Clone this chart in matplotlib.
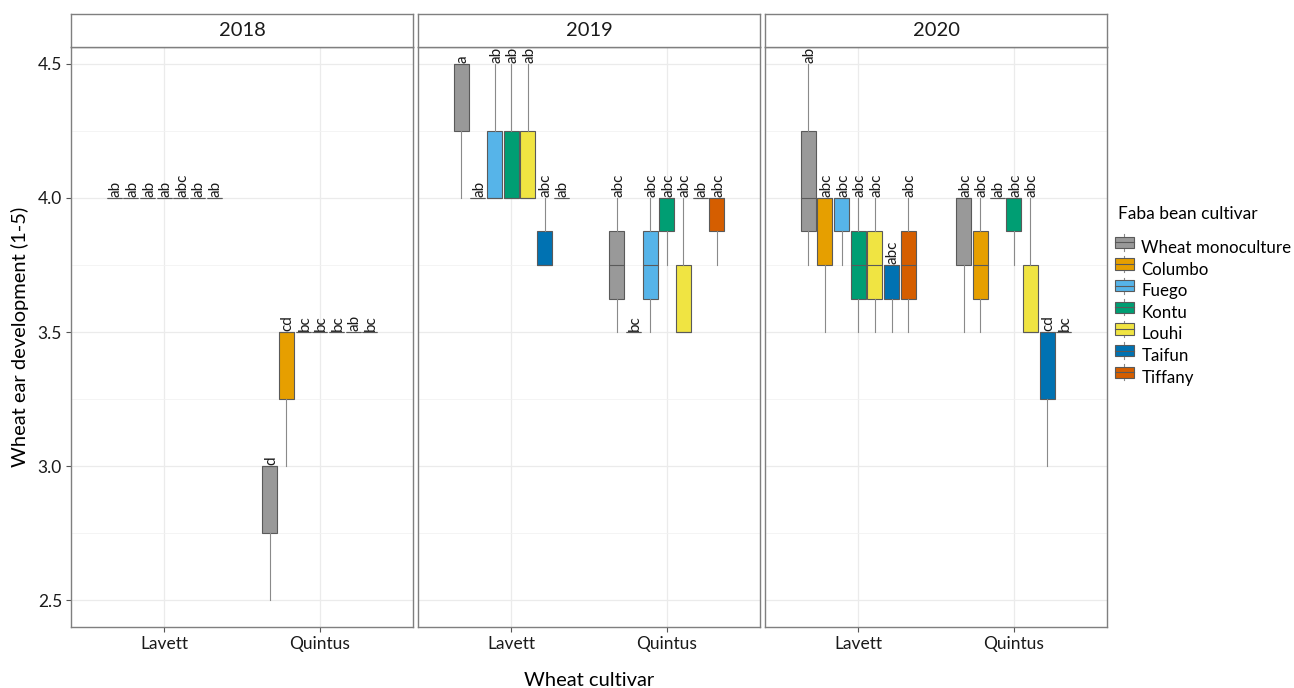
import numpy as np
import matplotlib
matplotlib.use("Agg")
import matplotlib.pyplot as plt
from matplotlib.patches import Rectangle, Patch
from matplotlib.lines import Line2D
from matplotlib.legend_handler import HandlerBase

plt.rcParams['font.family'] = ['Lato', 'DejaVu Sans']

years = ['2018', '2019', '2020']
wheat = ['Lavett', 'Quintus']
faba = ['Wheat monoculture', 'Columbo', 'Fuego', 'Kontu', 'Louhi', 'Taifun', 'Tiffany']
colors = ['#999999', '#E69F00', '#56B4E9', '#009E73', '#F0E442', '#0072B2', '#D55E00']

# box statistics, indexed [year][wheat cultivar][faba cultivar]
whislo = np.array([
    [[4.0, 4.0, 4.0, 4.0, 4.0, 4.0, 4.0], [2.5, 3.0, 3.5, 3.5, 3.5, 3.5, 3.5]],
    [[4.0, 4.0, 4.0, 4.0, 4.0, 3.75, 4.0], [3.5, 3.5, 3.5, 3.75, 3.5, 4.0, 3.75]],
    [[3.75, 3.5, 3.75, 3.5, 3.5, 3.5, 3.5], [3.5, 3.5, 4.0, 3.75, 3.5, 3.0, 3.5]],
])
q1 = np.array([
    [[4.0, 4.0, 4.0, 4.0, 4.0, 4.0, 4.0], [2.75, 3.25, 3.5, 3.5, 3.5, 3.5, 3.5]],
    [[4.25, 4.0, 4.0, 4.0, 4.0, 3.75, 4.0], [3.625, 3.5, 3.625, 3.875, 3.5, 4.0, 3.875]],
    [[3.875, 3.75, 3.875, 3.625, 3.625, 3.625, 3.625], [3.75, 3.625, 4.0, 3.875, 3.5, 3.25, 3.5]],
])
med = np.array([
    [[4.0, 4.0, 4.0, 4.0, 4.0, 4.0, 4.0], [3.0, 3.5, 3.5, 3.5, 3.5, 3.5, 3.5]],
    [[4.5, 4.0, 4.0, 4.0, 4.0, 3.75, 4.0], [3.75, 3.5, 3.75, 4.0, 3.5, 4.0, 4.0]],
    [[4.0, 4.0, 4.0, 3.75, 3.75, 3.75, 3.75], [4.0, 3.75, 4.0, 4.0, 3.5, 3.5, 3.5]],
])
q3 = np.array([
    [[4.0, 4.0, 4.0, 4.0, 4.0, 4.0, 4.0], [3.0, 3.5, 3.5, 3.5, 3.5, 3.5, 3.5]],
    [[4.5, 4.0, 4.25, 4.25, 4.25, 3.875, 4.0], [3.875, 3.5, 3.875, 4.0, 3.75, 4.0, 4.0]],
    [[4.25, 4.0, 4.0, 3.875, 3.875, 3.75, 3.875], [4.0, 3.875, 4.0, 4.0, 3.75, 3.5, 3.5]],
])
whishi = np.array([
    [[4.0, 4.0, 4.0, 4.0, 4.0, 4.0, 4.0], [3.0, 3.5, 3.5, 3.5, 3.5, 3.5, 3.5]],
    [[4.5, 4.0, 4.5, 4.5, 4.5, 4.0, 4.0], [4.0, 3.5, 4.0, 4.0, 4.0, 4.0, 4.0]],
    [[4.5, 4.0, 4.0, 4.0, 4.0, 3.75, 4.0], [4.0, 4.0, 4.0, 4.0, 4.0, 3.5, 3.5]],
])
letters = [
    [['ab', 'ab', 'ab', 'ab', 'abc', 'ab', 'ab'], ['d', 'cd', 'bc', 'bc', 'bc', 'ab', 'bc']],
    [['a', 'ab', 'ab', 'ab', 'ab', 'abc', 'ab'], ['abc', 'bc', 'abc', 'abc', 'abc', 'ab', 'abc']],
    [['ab', 'abc', 'abc', 'abc', 'abc', 'abc', 'abc'], ['abc', 'abc', 'ab', 'abc', 'abc', 'cd', 'bc']],
]

W, H = 1294, 688
fig = plt.figure(figsize=(W / 100, H / 100), dpi=100)

EDGE = '#5a5a5a'
WHISK = '#8a8a8a'
BORDER = '#7f7f7f'
dodge = 0.75
nf = len(faba)
offsets = (np.arange(nf) - (nf - 1) / 2) * dodge / nf
bw = 0.9 * dodge / nf

panel_x = [71, 418, 765]
pw, top, bottom = 342, 47, 627

for yi, year in enumerate(years):
    ax = fig.add_axes([panel_x[yi] / W, 1 - bottom / H, pw / W, (bottom - top) / H])
    ax.set_xlim(0.4, 2.6)
    ax.set_ylim(2.4, 4.563)
    ax.set_yticks([2.5, 3.0, 3.5, 4.0, 4.5])
    ax.set_yticks([2.75, 3.25, 3.75, 4.25], minor=True)
    ax.set_xticks([1, 2])
    ax.set_xticklabels(wheat)
    ax.grid(True, which='major', color='#ebebeb', lw=0.9)
    ax.grid(True, which='minor', axis='y', color='#f2f2f2', lw=0.6)
    ax.set_axisbelow(True)
    ax.tick_params(which='major', length=3.5, color='#555555', labelsize=12.5,
                   labelcolor='#1a1a1a', pad=3)
    ax.tick_params(which='minor', length=0)
    if yi > 0:
        ax.set_yticklabels([])
        ax.tick_params(axis='y', length=0)
    for s in ax.spines.values():
        s.set_color(BORDER)
        s.set_linewidth(1.0)

    for wi in range(len(wheat)):
        for fi in range(nf):
            st = dict(whislo=whislo[yi, wi, fi], q1=q1[yi, wi, fi], med=med[yi, wi, fi],
                      q3=q3[yi, wi, fi], whishi=whishi[yi, wi, fi], fliers=[])
            pos = wi + 1 + offsets[fi]
            ax.bxp([st], positions=[pos], widths=bw, patch_artist=True,
                   showcaps=False, showfliers=False,
                   boxprops=dict(facecolor=colors[fi], edgecolor=EDGE, linewidth=0.8),
                   medianprops=dict(color=EDGE, linewidth=0.8),
                   whiskerprops=dict(color=WHISK, linewidth=0.8),
                   manage_ticks=False)
            ax.annotate(letters[yi][wi][fi], (pos, whishi[yi, wi, fi]),
                        xytext=(1, 1), textcoords='offset points',
                        rotation=90, ha='center', va='bottom',
                        fontsize=11, color='#1a1a1a', annotation_clip=False)

    # facet strip
    sax = fig.add_axes([panel_x[yi] / W, 1 - top / H, pw / W, 33 / H])
    sax.set_xticks([])
    sax.set_yticks([])
    for s in sax.spines.values():
        s.set_color(BORDER)
        s.set_linewidth(1.0)
    sax.text(0.5, 0.5, year, ha='center', va='center', fontsize=14.5, color='#1a1a1a',
             transform=sax.transAxes)

fig.text(589 / W, 1 - 680 / H, 'Wheat cultivar', ha='center', va='center', fontsize=14.5)
fig.text(20 / W, 1 - 337 / H, 'Wheat ear development (1-5)', ha='center', va='center',
         rotation=90, fontsize=14.5)


class BoxKey(HandlerBase):
    def create_artists(self, legend, orig, xd, yd, width, height, fontsize, trans):
        cx = xd + width / 2
        b = Rectangle((xd, yd + height * 0.15), width, height * 0.7,
                      facecolor=orig.get_facecolor(), edgecolor=EDGE, lw=0.8, transform=trans)
        m = Line2D([xd, xd + width], [yd + height / 2] * 2, color=EDGE, lw=0.8, transform=trans)
        w1 = Line2D([cx, cx], [yd, yd + height * 0.15], color=WHISK, lw=0.8, transform=trans)
        w2 = Line2D([cx, cx], [yd + height * 0.85, yd + height], color=WHISK, lw=0.8,
                    transform=trans)
        return [w1, w2, b, m]


fig.text(1118 / W, 1 - 214 / H, 'Faba bean cultivar', ha='left', va='center', fontsize=12.5)
handles = [Patch(facecolor=c) for c in colors]
fig.legend(handles, faba, loc='upper left',
           bbox_to_anchor=(1115 / W, 1 - 239 / H), frameon=False,
           handler_map={Patch: BoxKey()}, handlelength=1.1, handleheight=1.1,
           handletextpad=0.45, labelspacing=0.28, fontsize=12.2,
           borderaxespad=0, borderpad=0)

fig.savefig('out.png', dpi=100)
